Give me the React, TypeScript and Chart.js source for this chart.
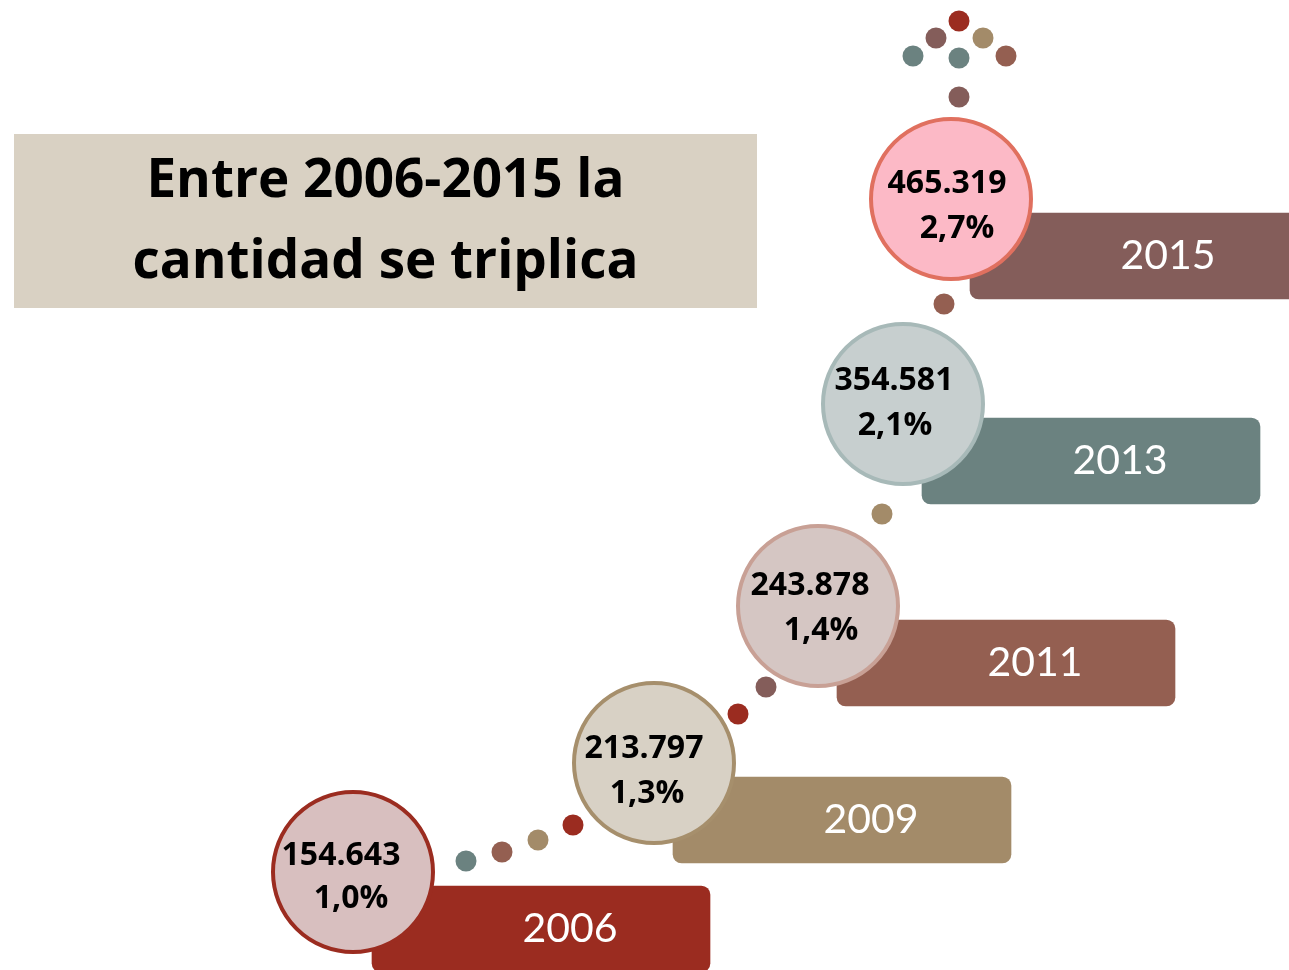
import React, { useEffect, useRef } from "react";
import { Chart, registerables } from "chart.js";

Chart.register(...registerables);

// ---- data ----
const years = ["2006", "2009", "2011", "2013", "2015"];
const totals = [154643, 213797, 243878, 354581, 465319];
const shares = [1.0, 1.3, 1.4, 2.1, 2.7];
const titleLines = ["Entre 2006-2015 la", "cantidad se triplica"];

// ---- layout (staircase positions in page pixels) ----
const stepX = [353, 654, 818, 903, 951];
const stepY = [872, 763, 606, 404, 199];
const labelNudge = [
  [-12, -7, -2, 36],
  [-10, -5, -7, 40],
  [-8, -11, 3, 34],
  [-9, -14, -8, 31],
  [-4, -6, 6, 39],
];
const dotX = [959, 936, 983, 913, 959, 1006, 959, 944, 882, 766, 738, 466, 502, 538, 573];
const dotY = [21, 38, 38, 56, 58, 56, 97, 304, 514, 687, 714, 861, 852, 840, 825];
const dotTone = [0, 1, 2, 3, 3, 4, 1, 4, 2, 1, 0, 3, 4, 2, 0];

// ---- styles ----
const tones = ["#9b2c20", "#845d5a", "#a38b69", "#6b8280", "#945f51"];
const barColors = ["#9b2c20", "#a38b69", "#945f51", "#6b8280", "#845d5a"];
const circleFill = ["#d8bfbf", "#d8d1c5", "#d5c6c3", "#c7cfcf", "#fcb9c6"];
const circleBorder = ["#9b2c20", "#a68f6c", "#c8a095", "#a7b9b8", "#e0705f"];

const W = 1289;
const H = 970;

function fmtThousands(n: number): string {
  return String(n).replace(/\B(?=(\d{3})+(?!\d))/g, ".");
}
function fmtShare(v: number): string {
  return v.toFixed(1).replace(".", ",") + "%";
}

const labelPlugin = {
  id: "stepLabels",
  afterDatasetsDraw(chart: any) {
    const ctx = chart.ctx as CanvasRenderingContext2D;
    const bars = chart.getDatasetMeta(0).data;
    const circles = chart.getDatasetMeta(2).data;
    ctx.save();
    ctx.textAlign = "center";
    ctx.textBaseline = "alphabetic";
    for (let i = 0; i < years.length; i++) {
      const b = bars[i];
      const left = Math.min(b.x, b.base);
      ctx.fillStyle = "#ffffff";
      ctx.font = "41px Lato";
      ctx.fillText(years[i], left + 198, b.y + 13);

      const c = circles[i];
      const n = labelNudge[i];
      ctx.fillStyle = "#000000";
      ctx.font = "bold 32px 'Open Sans'";
      ctx.fillText(fmtThousands(totals[i]), c.x + n[0], c.y + n[1]);
      ctx.fillText(fmtShare(shares[i]), c.x + n[2], c.y + n[3]);
    }
    ctx.restore();
  },
};

export default function App() {
  const ref = useRef<HTMLCanvasElement | null>(null);

  useEffect(() => {
    if (!ref.current) return;
    const chart = new Chart(ref.current, {
      type: "bar",
      data: {
        datasets: [
          {
            type: "bar",
            indexAxis: "y",
            data: years.map((_, i) => ({
              y: stepY[i] + 57,
              x: [stepX[i] + 19, stepX[i] + 19 + 338],
            })),
            backgroundColor: barColors,
            barThickness: 86,
            borderRadius: 9,
            borderSkipped: false,
            order: 3,
            clip: false,
          } as any,
          {
            type: "bubble",
            data: dotX.map((x, i) => ({ x, y: dotY[i], r: 10.5 })),
            backgroundColor: dotTone.map((t) => tones[t]),
            borderWidth: 0,
            order: 2,
            clip: false,
          } as any,
          {
            type: "bubble",
            data: years.map((_, i) => ({ x: stepX[i], y: stepY[i], r: 80 })),
            backgroundColor: circleFill,
            borderColor: circleBorder,
            borderWidth: 4,
            order: 1,
            clip: false,
          } as any,
        ],
      },
      options: {
        responsive: false,
        animation: false,
        events: [],
        layout: { padding: 0, autoPadding: false },
        scales: {
          x: { type: "linear", min: 0, max: W, display: false, offset: false, grid: { offset: false } },
          y: { type: "linear", min: 0, max: H, reverse: true, display: false, offset: false, grid: { offset: false } },
        },
        plugins: {
          legend: { display: false },
          tooltip: { enabled: false },
          title: { display: false },
        },
      } as any,
      plugins: [labelPlugin],
    });
    return () => chart.destroy();
  }, []);

  return (
    <div style={{ position: "absolute", left: 0, top: 0, width: W, height: H, background: "#ffffff", overflow: "hidden" }}>
      <canvas ref={ref} width={W} height={H} style={{ position: "absolute", left: 0, top: 0, width: W, height: H }} />
      <div
        style={{
          position: "absolute",
          left: 14,
          top: 134,
          width: 743,
          height: 174,
          boxSizing: "border-box",
          paddingBottom: 8,
          background: "#d9d1c3",
          display: "flex",
          flexDirection: "column",
          justifyContent: "center",
          alignItems: "center",
          fontFamily: "'Open Sans', sans-serif",
          fontWeight: 700,
          fontSize: 53,
          lineHeight: "81px",
          color: "#000",
          fontVariantLigatures: "none",
          whiteSpace: "nowrap",
        }}
      >
        {titleLines.map((t) => (
          <div key={t}>{t}</div>
        ))}
      </div>
    </div>
  );
}
